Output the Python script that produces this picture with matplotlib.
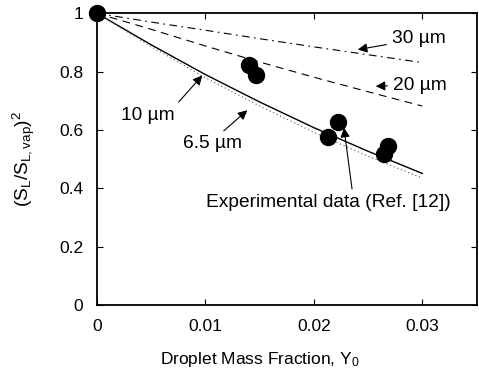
import numpy as np
import matplotlib
matplotlib.use("Agg")
import matplotlib.pyplot as plt

plt.rcParams["font.family"] = ["Liberation Sans", "DejaVu Sans"]
plt.rcParams["mathtext.fontset"] = "custom"
plt.rcParams["mathtext.rm"] = "Liberation Sans"
plt.rcParams["mathtext.it"] = "Liberation Sans"

# Model curves (droplet diameter)
y0_model = [0.0, 0.005, 0.01, 0.015, 0.02, 0.025, 0.03]
ratio_30um = [1.0, 0.970, 0.942, 0.913, 0.885, 0.858, 0.831]
ratio_20um = [1.0, 0.945, 0.888, 0.833, 0.781, 0.731, 0.682]
ratio_10um = [1.0, 0.892, 0.790, 0.696, 0.608, 0.527, 0.451]
ratio_6p5um = [1.0, 0.886, 0.779, 0.682, 0.592, 0.510, 0.435]

# Experimental data (Ref. [12])
y0_exp = [0.0, 0.0140, 0.0147, 0.0213, 0.0222, 0.0265, 0.0268]
ratio_exp = [1.0, 0.823, 0.787, 0.576, 0.627, 0.516, 0.546]

x_ticks = [0, 0.01, 0.02, 0.03]
x_tick_labels = ["0", "0.01", "0.02", "0.03"]
y_ticks = [0, 0.2, 0.4, 0.6, 0.8, 1.0]
y_tick_labels = ["0", "0.2", "0.4", "0.6", "0.8", "1"]

fig = plt.figure(figsize=(4.79, 3.75), dpi=100)
ax = fig.add_axes([0.2025, 0.1867, 0.7923, 0.7778])

ax.plot(y0_model, ratio_30um, color="black", lw=0.8, linestyle=(0, (7, 4, 1.5, 4)))
ax.plot(y0_model, ratio_20um, color="black", lw=0.8, linestyle=(0, (7, 5)))
ax.plot(y0_model, ratio_10um, color="black", lw=1.0, linestyle="-")
ax.plot(y0_model, ratio_6p5um, color="#555555", lw=0.8, linestyle=(0, (1, 2.5)))
ax.plot(y0_exp, ratio_exp, "o", color="black", markersize=11.5, clip_on=False, zorder=5)

ax.set_xlim(0, 0.035)
ax.set_ylim(0, 1)
ax.set_xticks(x_ticks)
ax.set_xticklabels(x_tick_labels)
ax.set_yticks(y_ticks)
ax.set_yticklabels(y_tick_labels)
ax.tick_params(direction="in", top=True, right=True, length=4, width=0.8,
               labelsize=12.5, pad=10)
for s in ax.spines.values():
    s.set_linewidth(1.3)

ax.set_xlabel(r"Droplet Mass Fraction, Y$_\mathregular{0}$", fontsize=12.5)
ax.xaxis.set_label_coords(0.4286, -0.155)
ax.set_ylabel(r"(S$_\mathregular{L}$/S$_\mathregular{L,vap}$)$^\mathregular{2}$", fontsize=13.8)
ax.yaxis.set_label_coords(-0.157, 0.5)

arrow = dict(arrowstyle="-|>", color="black", lw=0.8, mutation_scale=14)
fs = 13.8
ax.annotate("30 µm", xy=(0.0238, 0.874), xytext=(0.0272, 0.912),
            fontsize=fs, va="center", ha="left", arrowprops=arrow)
ax.annotate("20 µm", xy=(0.02545, 0.750), xytext=(0.0273, 0.754),
            fontsize=fs, va="center", ha="left", arrowprops=arrow)
ax.annotate("10 µm", xy=(0.00988, 0.794), xytext=(0.00466, 0.65),
            fontsize=fs, va="center", ha="center",
            arrowprops=dict(arrow, relpos=(1.0, 1.0)))
ax.annotate("6.5 µm", xy=(0.01406, 0.674), xytext=(0.01066, 0.552),
            fontsize=fs, va="center", ha="center",
            arrowprops=dict(arrow, relpos=(0.6, 1.0)))
ax.annotate("Experimental data (Ref. [12])", xy=(0.02274, 0.617),
            xytext=(0.02133, 0.350), fontsize=fs, va="center", ha="center",
            arrowprops=dict(arrow, relpos=(0.6, 1.0)))

fig.savefig("out.png", dpi=100)
